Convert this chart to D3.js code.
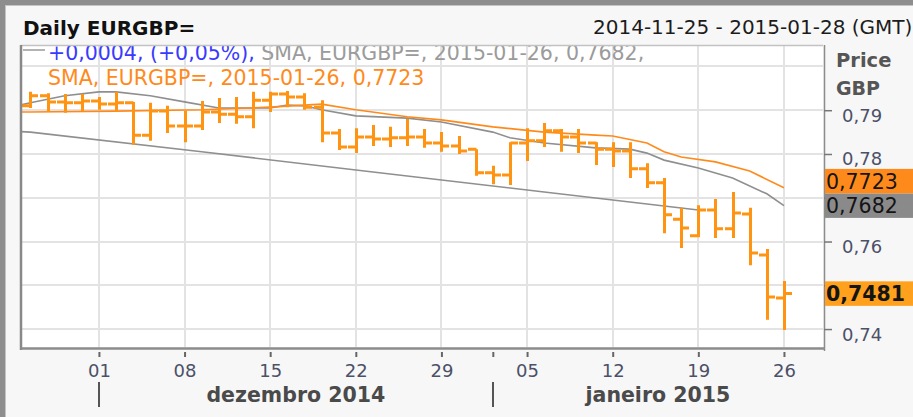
<!DOCTYPE html>
<html lang="pt">
<head>
<meta charset="UTF-8">
<title>Daily EURGBP=</title>
<script src="https://d3js.org/d3.v7.min.js"></script>
<style>
  body { margin: 0; background: #f7f7f7; }
  svg { display: block; font-family: "DejaVu Sans", Verdana, sans-serif; }
</style>
</head>
<body>
<svg width="913" height="417"></svg>
<script>
// one OHLC bar per trading day
const dates = ["2014-11-25","2014-11-26","2014-11-27","2014-11-28",
  "2014-12-01","2014-12-02","2014-12-03","2014-12-04","2014-12-05",
  "2014-12-08","2014-12-09","2014-12-10","2014-12-11","2014-12-12",
  "2014-12-15","2014-12-16","2014-12-17","2014-12-18","2014-12-19",
  "2014-12-22","2014-12-23","2014-12-24","2014-12-25","2014-12-26",
  "2014-12-29","2014-12-30","2014-12-31","2015-01-01","2015-01-02",
  "2015-01-05","2015-01-06","2015-01-07","2015-01-08","2015-01-09",
  "2015-01-12","2015-01-13","2015-01-14","2015-01-15","2015-01-16",
  "2015-01-19","2015-01-20","2015-01-21","2015-01-22","2015-01-23",
  "2015-01-26"];
const open  = [0.7910,0.7933,0.7919,0.7917,0.7921,0.7914,0.7917,0.7843,0.7898,
  0.7864,0.7864,0.7896,0.7891,0.7885,0.7923,0.7937,0.7930,0.7907,0.7848,
  0.7816,0.7839,0.7834,0.7837,0.7839,0.7825,0.7818,0.7811,0.7757,0.7752,
  0.7825,0.7830,0.7853,0.7839,0.7825,0.7811,0.7807,0.7766,0.7734,0.7651,
  0.7613,0.7672,0.7629,0.7663,0.7569,0.7471];
const high  = [0.7942,0.7939,0.7937,0.7937,0.7930,0.7942,0.7919,0.7917,0.7910,
  0.7898,0.7921,0.7928,0.7930,0.7942,0.7942,0.7944,0.7939,0.7923,0.7857,
  0.7859,0.7866,0.7862,0.7880,0.7857,0.7850,0.7841,0.7811,0.7773,0.7827,
  0.7859,0.7871,0.7857,0.7857,0.7827,0.7827,0.7827,0.7779,0.7745,0.7677,
  0.7683,0.7697,0.7713,0.7677,0.7583,0.7510];
const low   = [0.7905,0.7896,0.7894,0.7898,0.7901,0.7896,0.7821,0.7830,0.7848,
  0.7827,0.7855,0.7871,0.7869,0.7859,0.7896,0.7907,0.7901,0.7827,0.7809,
  0.7802,0.7818,0.7816,0.7818,0.7814,0.7805,0.7800,0.7750,0.7731,0.7729,
  0.7784,0.7816,0.7805,0.7802,0.7775,0.7770,0.7745,0.7722,0.7619,0.7585,
  0.7610,0.7608,0.7608,0.7546,0.7421,0.7398];
const close = [0.7933,0.7919,0.7917,0.7921,0.7914,0.7917,0.7843,0.7898,0.7864,
  0.7864,0.7896,0.7891,0.7885,0.7923,0.7937,0.7930,0.7907,0.7848,0.7816,
  0.7839,0.7834,0.7837,0.7839,0.7825,0.7818,0.7807,0.7757,0.7752,0.7825,
  0.7830,0.7853,0.7839,0.7825,0.7811,0.7807,0.7766,0.7734,0.7661,0.7631,
  0.7672,0.7629,0.7665,0.7574,0.7473,0.7481];

// moving averages
const smaOrangeDates  = ["2014-11-24","2014-11-25","2014-12-02","2014-12-09","2014-12-15",
  "2014-12-18","2014-12-22","2014-12-25","2014-12-29","2015-01-01","2015-01-06",
  "2015-01-09","2015-01-12","2015-01-14","2015-01-15","2015-01-16","2015-01-20",
  "2015-01-22","2015-01-26"];
const smaOrangeValues = [0.7896,0.7896,0.7898,0.7901,0.7907,0.7914,0.7901,0.7885,0.7878,
  0.7862,0.7850,0.7843,0.7841,0.7825,0.7805,0.7793,0.7782,0.7761,0.7723];
const smaGrayDates  = ["2014-11-24","2014-11-25","2014-11-27","2014-12-01","2014-12-02",
  "2014-12-04","2014-12-08","2014-12-10","2014-12-15","2014-12-16","2014-12-17",
  "2014-12-18","2014-12-22","2014-12-25","2014-12-29","2015-01-01","2015-01-02",
  "2015-01-06","2015-01-09","2015-01-13","2015-01-14","2015-01-15","2015-01-19",
  "2015-01-21","2015-01-23","2015-01-26"];
const smaGrayValues = [0.7908,0.7917,0.7933,0.7942,0.7942,0.7933,0.7919,0.7905,0.7905,
  0.7912,0.7910,0.7901,0.7887,0.7882,0.7873,0.7850,0.7837,0.7825,0.7814,0.7811,
  0.7802,0.7786,0.7768,0.7745,0.7709,0.7682];
// long trend line
const trendDates  = ["2014-11-24","2014-11-25","2014-12-09","2014-12-23","2015-01-06","2015-01-19"];
const trendValues = [0.7852,0.7850,0.7805,0.7759,0.7713,0.7672];

const weekTicks  = ["2014-12-01","2014-12-08","2014-12-15","2014-12-22","2014-12-29",
  "2015-01-01","2015-01-05","2015-01-12","2015-01-19","2015-01-26"];
const weekLabels = ["01","08","15","22","29","","05","12","19","26"];
const monthStarts = ["2014-12-01","2015-01-01"];
const monthLabels = ["dezembro 2014","janeiro 2015"];
const priceTicks = [0.74,0.75,0.76,0.77,0.78,0.79];
const priceLabels = ["0,74","0,75","0,76","","0,78","0,79"]; // 0,77 sits under the value boxes
const gridPrices = [0.74,0.75,0.76,0.77,0.78,0.79,0.80];

// weekday position counted from 2014-11-25 (a Tuesday)
const day0 = Date.UTC(2014, 10, 25);
const slot = [0, 1, 2, 3, 3.5, 3.5, 4];
function tday(s) {
  const n = Math.round((Date.parse(s + "T00:00:00Z") - day0) / 864e5);
  const w = Math.floor(n / 7);
  return w * 5 + slot[n - w * 7];
}
const comma = v => d3.format(".4f")(v).replace(".", ",");

const svg = d3.select("svg");
const plot = {left: 21, right: 823, top: 45, bottom: 347};

const x = d3.scaleLinear().domain([-0.55, tday("2015-01-28") + 0.28]).range([plot.left, plot.right]);
const y = d3.scaleLinear().domain([0.7359, 0.8049]).range([plot.bottom, plot.top]);

// frame
svg.append("rect").attr("width", 913).attr("height", 417).attr("fill", "#f7f7f7");
svg.append("rect").attr("width", 913).attr("height", 5).attr("fill", "#8e8e8e");
svg.append("rect").attr("width", 5).attr("height", 417).attr("fill", "#8e8e8e");
svg.append("line").attr("x1", 5).attr("x2", 913).attr("y1", 5.5).attr("y2", 5.5).attr("stroke", "#c4c4c4");
svg.append("line").attr("x1", 5.5).attr("x2", 5.5).attr("y1", 5).attr("y2", 417).attr("stroke", "#c4c4c4");

svg.append("rect")
  .attr("x", plot.left).attr("y", plot.top)
  .attr("width", plot.right - plot.left).attr("height", plot.bottom - plot.top)
  .attr("fill", "#ffffff");

svg.append("clipPath").attr("id", "clip").append("rect")
  .attr("x", plot.left).attr("y", plot.top + 1)
  .attr("width", plot.right - plot.left).attr("height", plot.bottom - plot.top - 1);

// header
svg.append("text").attr("x", 23).attr("y", 35)
  .attr("font-size", 20).attr("font-weight", "bold").attr("fill", "#111")
  .text("Daily EURGBP=");
svg.append("text").attr("x", 593).attr("y", 34)
  .attr("font-size", 20).attr("fill", "#1c1c1c")
  .text("2014-11-25 - 2015-01-28 (GMT)");

const inner = svg.append("g").attr("clip-path", "url(#clip)");

// grid
inner.selectAll(".hgrid").data(gridPrices).enter().append("line")
  .attr("x1", plot.left).attr("x2", plot.right)
  .attr("y1", d => Math.round(y(d))).attr("y2", d => Math.round(y(d)))
  .attr("stroke", "#e3e3e3").attr("stroke-width", 2);
inner.selectAll(".vgrid").data(weekTicks.filter((d, i) => weekLabels[i] !== "")).enter().append("line")
  .attr("x1", d => Math.round(x(tday(d)))).attr("x2", d => Math.round(x(tday(d))))
  .attr("y1", plot.top).attr("y2", plot.bottom)
  .attr("stroke", "#e3e3e3").attr("stroke-width", 2);

// lines
const line = d3.line().x(d => x(d[0])).y(d => y(d[1]));
function series(ds, vs) { return ds.map((d, i) => [tday(d), vs[i]]); }

inner.append("path").datum(series(trendDates, trendValues))
  .attr("d", line).attr("fill", "none").attr("stroke", "#8f8f8f").attr("stroke-width", 1.6);
inner.append("path").datum(series(smaGrayDates, smaGrayValues))
  .attr("d", line).attr("fill", "none").attr("stroke", "#8f8f8f").attr("stroke-width", 1.6);
inner.append("path").datum(series(smaOrangeDates, smaOrangeValues))
  .attr("d", line).attr("fill", "none").attr("stroke", "#ff8a1c").attr("stroke-width", 1.6);

// OHLC bars
const bars = dates.map((d, i) => ({t: tday(d), o: open[i], h: high[i], l: low[i], c: close[i]}));
inner.selectAll(".bar").data(bars).enter().append("path")
  .attr("class", "bar")
  .attr("d", d => {
    const cx = Math.round(x(d.t)) + 0.5;
    return `M${cx},${y(d.h)}V${y(d.l)}` +
      `M${cx - 8.5},${y(d.o)}H${cx}` +
      `M${cx},${y(d.c)}H${cx + 7.5}`;
  })
  .attr("fill", "none").attr("stroke", "#ff9312").attr("stroke-width", 3);

// legend rows inside the plot (top row is cut by the frame)
inner.append("line").attr("x1", 23).attr("x2", 45).attr("y1", 50).attr("y2", 50)
  .attr("stroke", "#9a9a9a").attr("stroke-width", 1.5);
const row1 = inner.append("text").attr("x", 48).attr("y", 60).attr("font-size", 20.5);
row1.append("tspan").attr("fill", "#3a3aff").text("+0,0004, (+0,05%),");
row1.append("tspan").attr("fill", "#9b9b9b")
  .text(` SMA, EURGBP=, 2015-01-26, ${comma(smaGrayValues[smaGrayValues.length - 1])},`);
inner.append("text").attr("x", 48).attr("y", 85).attr("font-size", 20.5).attr("fill", "#ff8a1c")
  .text(`SMA, EURGBP=, 2015-01-26, ${comma(smaOrangeValues[smaOrangeValues.length - 1])}`);

// plot border
svg.append("line").attr("x1", plot.left).attr("x2", plot.right).attr("y1", plot.top + 0.5).attr("y2", plot.top + 0.5)
  .attr("stroke", "#c2c2c2").attr("stroke-width", 1.5);
svg.append("line").attr("x1", plot.left).attr("x2", plot.left).attr("y1", plot.top).attr("y2", plot.bottom + 3)
  .attr("stroke", "#888").attr("stroke-width", 2.5);
svg.append("line").attr("x1", plot.left).attr("x2", plot.right + 1).attr("y1", plot.bottom + 1.5).attr("y2", plot.bottom + 1.5)
  .attr("stroke", "#8c8c8c").attr("stroke-width", 2.5);

// right price axis
const yAxis = svg.append("g").attr("transform", `translate(${plot.right + 1},0)`)
  .call(d3.axisRight(y).tickValues(priceTicks).tickSize(8).tickFormat((d, i) => priceLabels[i]));
yAxis.select(".domain").attr("d", `M0.5,${plot.top}V${plot.bottom + 4}`).attr("stroke", "#8c8c8c").attr("stroke-width", 1.5);
yAxis.selectAll(".tick line").attr("stroke", "#777").attr("stroke-width", 1.5);
yAxis.selectAll(".tick text").attr("x", 18).attr("y", 11).attr("dy", null)
  .attr("font-size", 18).attr("font-family", "DejaVu Sans").attr("fill", "#4c5068");

svg.append("text").attr("x", 836).attr("y", 67).attr("font-size", 19.5).attr("font-weight", "bold")
  .attr("fill", "#555").text("Price");
svg.append("text").attr("x", 836).attr("y", 95).attr("font-size", 19).attr("font-weight", "bold")
  .attr("fill", "#555").text("GBP");

// last value boxes
const boxes = [
  {v: smaOrangeValues[smaOrangeValues.length - 1], fill: "#ff8a1c", weight: "normal"},
  {v: smaGrayValues[smaGrayValues.length - 1], fill: "#8a8a8a", weight: "normal"},
  {v: close[close.length - 1], fill: "#ffa11c", weight: "bold"}
];
const boxH = 24.5;
boxes.forEach(b => b.cy = y(b.v));
boxes.sort((a, b) => b.cy - a.cy);
for (let i = 1; i < boxes.length; i++) {
  if (boxes[i - 1].cy - boxes[i].cy < boxH) boxes[i].cy = boxes[i - 1].cy - boxH;
}
const boxG = svg.selectAll(".vbox").data(boxes).enter().append("g")
  .attr("transform", d => `translate(825,${d.cy - boxH / 2})`);
boxG.append("rect").attr("width", 88).attr("height", boxH).attr("fill", d => d.fill);
boxG.append("text").attr("x", 1).attr("y", boxH / 2 + 7.5)
  .attr("font-size", 20.5).attr("font-weight", d => d.weight).attr("fill", "#151515")
  .text(d => comma(d.v));

// bottom date axis
const xAxis = svg.append("g").attr("transform", `translate(0,${plot.bottom + 5})`)
  .call(d3.axisBottom(x).tickValues(weekTicks.map(tday)).tickSize(5)
    .tickFormat((d, i) => weekLabels[i]));
xAxis.select(".domain").remove();
xAxis.selectAll(".tick line").attr("stroke", "#666").attr("stroke-width", 2);
xAxis.selectAll(".tick text").attr("y", 25).attr("dy", null)
  .attr("font-size", 18).attr("font-family", "DejaVu Sans").attr("fill", "#4c5068");

// month row
const monthX = monthStarts.map(d => x(tday(d)));
svg.selectAll(".msep").data(monthX).enter().append("line")
  .attr("x1", d => Math.round(d)).attr("x2", d => Math.round(d))
  .attr("y1", 382).attr("y2", 407)
  .attr("stroke", "#555").attr("stroke-width", 2);
svg.selectAll(".mlab").data(monthLabels).enter().append("text")
  .attr("x", (d, i) => ((monthX[i] + (i + 1 < monthX.length ? monthX[i + 1] : plot.right)) / 2))
  .attr("y", 402).attr("text-anchor", "middle")
  .attr("font-size", 20.5).attr("font-weight", "bold").attr("fill", "#4a4a4a")
  .text(d => d);
</script>
</body>
</html>
